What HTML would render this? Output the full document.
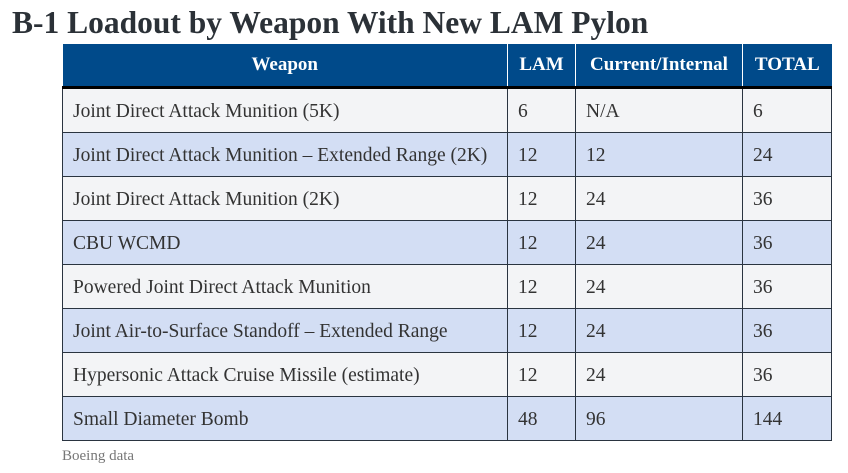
<!DOCTYPE html>
<html><head><meta charset="utf-8"><style>
body{margin:0;width:848px;height:473px;background:#fff;position:relative;overflow:hidden;font-family:"Liberation Serif","Noto Serif CJK SC","DejaVu Serif",serif}
h1{position:absolute;left:12px;top:5px;margin:0;font-size:31.5px;font-weight:bold;color:#2b3137;white-space:nowrap;font-family:inherit}
table{position:absolute;left:62px;top:44px;border-collapse:collapse;width:769px;table-layout:fixed;font-family:inherit}
th{background:#004a8a;color:#fff;font-size:19px;font-weight:bold;height:42px;padding:0;border-left:1px solid #fff;border-bottom:3px solid #000;font-family:inherit}
th:first-child{border-left:none}
td{height:41px;padding:2px 0 0 10px;font-size:19.5px;color:#333;border:1px solid #2a3440;white-space:nowrap;font-family:inherit}
tr.a td{background:#f3f4f6}
tr.b td{background:#d3def4}
.cap{position:absolute;left:62px;top:448px;font-size:15px;color:#777}
</style></head><body>
<h1>B-1 Loadout by Weapon With New LAM Pylon</h1>
<table>
<colgroup><col style="width:445px"><col style="width:68px"><col style="width:167px"><col style="width:89px"></colgroup>
<tr><th>Weapon</th><th>LAM</th><th>Current/Internal</th><th>TOTAL</th></tr>
<tr class="a"><td>Joint Direct Attack Munition (5K)</td><td>6</td><td>N/A</td><td>6</td></tr>
<tr class="b"><td>Joint Direct Attack Munition – Extended Range (2K)</td><td>12</td><td>12</td><td>24</td></tr>
<tr class="a"><td>Joint Direct Attack Munition (2K)</td><td>12</td><td>24</td><td>36</td></tr>
<tr class="b"><td>CBU WCMD</td><td>12</td><td>24</td><td>36</td></tr>
<tr class="a"><td>Powered Joint Direct Attack Munition</td><td>12</td><td>24</td><td>36</td></tr>
<tr class="b"><td>Joint Air-to-Surface Standoff – Extended Range</td><td>12</td><td>24</td><td>36</td></tr>
<tr class="a"><td>Hypersonic Attack Cruise Missile (estimate)</td><td>12</td><td>24</td><td>36</td></tr>
<tr class="b"><td>Small Diameter Bomb</td><td>48</td><td>96</td><td>144</td></tr>
</table>
<div class="cap">Boeing data</div>
</body></html>
